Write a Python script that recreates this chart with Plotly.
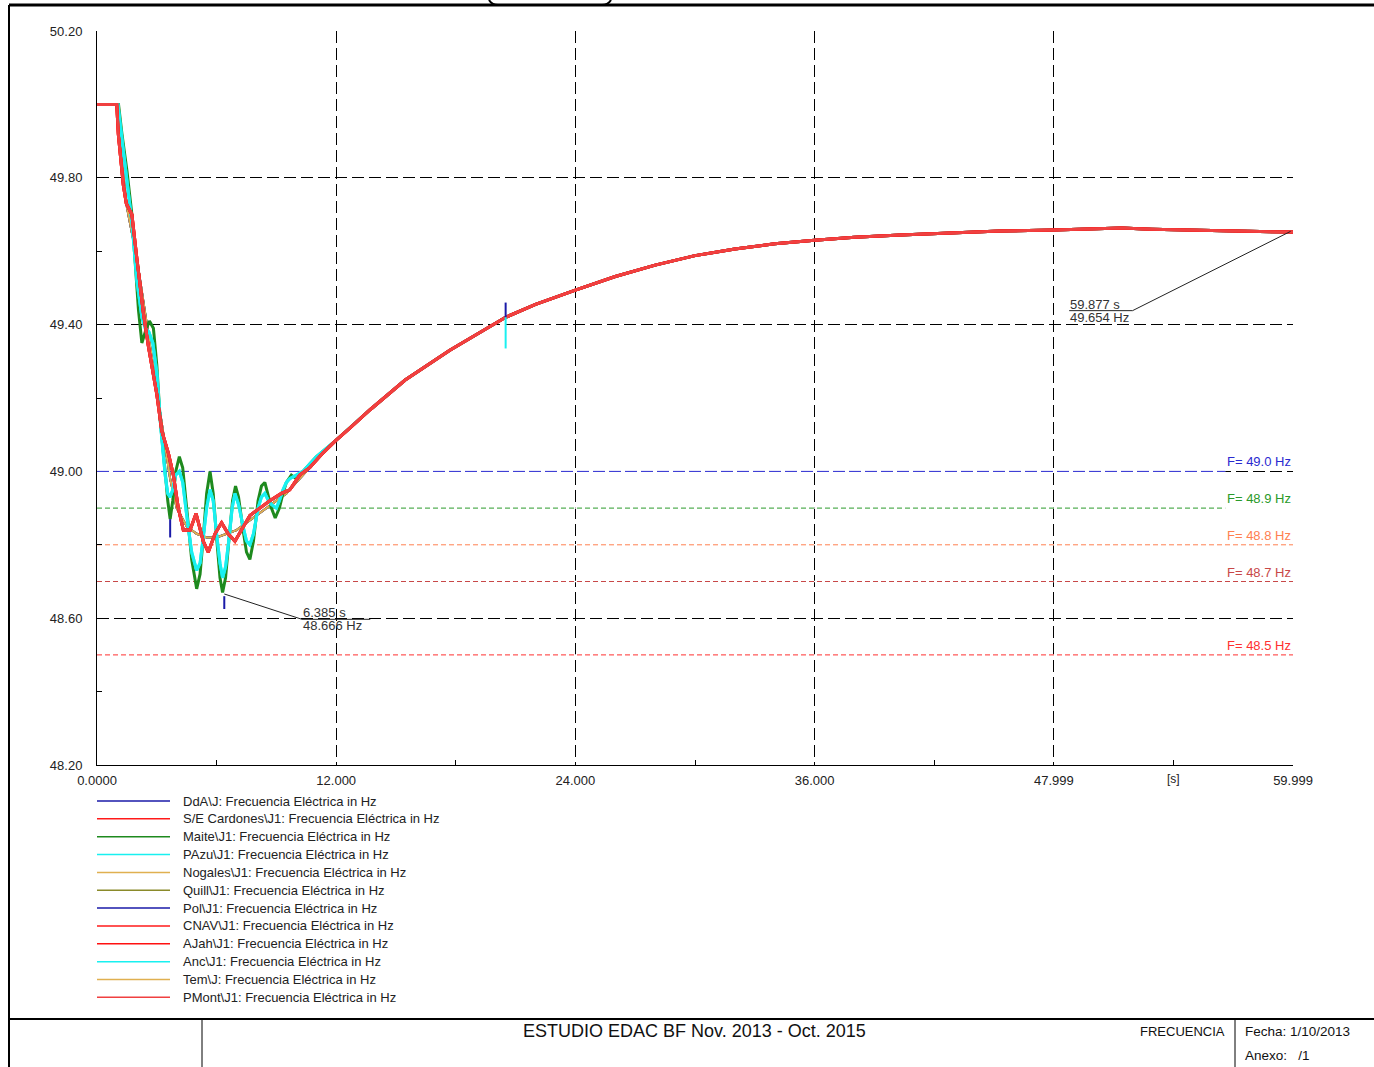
import plotly.graph_objects as go

W, H = 1374, 1067

# ---- data ----
t_red = [0, 0.99, 1.07, 1.32, 1.47, 1.75, 2.0, 2.33, 2.58, 2.75, 3.0, 3.25, 3.58, 3.83, 4.08, 4.33,
         4.67, 4.97, 5.33, 5.58, 5.92, 6.25, 6.58, 6.92, 7.25, 7.67, 8.17, 8.67, 9.25, 9.67, 10.17,
         10.67, 11.33, 12.0, 12.67, 13.7, 15.46, 17.7, 20.5, 22.0, 24.0, 26.0, 28.0, 30.0, 32.0, 34.0,
         36.0, 38.0, 40.3, 45.3, 48.0, 51.4, 52.9, 56.0, 59.999]
f_red = [50.0, 50.0, 49.918, 49.78, 49.73, 49.70, 49.58, 49.43, 49.34, 49.29, 49.21, 49.11, 49.05,
         48.99, 48.90, 48.84, 48.84, 48.885, 48.81, 48.78, 48.83, 48.86, 48.83, 48.81, 48.84, 48.88,
         48.90, 48.92, 48.94, 48.95, 48.99, 49.01, 49.05, 49.085, 49.117, 49.168, 49.249, 49.33, 49.42,
         49.455, 49.494, 49.531, 49.562, 49.588, 49.606, 49.62, 49.63, 49.638, 49.644, 49.655, 49.658,
         49.663, 49.66, 49.656, 49.652]

t_green = [0, 1.08, 1.25, 1.5, 1.75, 1.92, 2.08, 2.25, 2.42, 2.63, 2.83, 3.0, 3.17, 3.42, 3.55, 3.67,
           3.8, 3.95, 4.13, 4.3, 4.5, 4.75, 5.0, 5.17, 5.33, 5.5, 5.67, 5.83, 6.0, 6.17, 6.3, 6.45,
           6.63, 6.8, 6.95, 7.1, 7.33, 7.5, 7.67, 7.85, 8.08, 8.25, 8.42, 8.6, 8.75, 8.94, 9.15, 9.33,
           9.5, 9.75, 10.0, 10.33, 10.67, 11.0, 12.0]
f_green = [50.0, 50.0, 49.92, 49.82, 49.70, 49.55, 49.44, 49.35, 49.38, 49.41, 49.39, 49.29, 49.14,
           49.0, 48.92, 48.87, 48.92, 49.0, 49.04, 49.01, 48.90, 48.76, 48.68, 48.72, 48.82, 48.94,
           49.0, 48.94, 48.82, 48.71, 48.67, 48.71, 48.82, 48.92, 48.96, 48.93, 48.84, 48.78, 48.76,
           48.81, 48.92, 48.96, 48.97, 48.93, 48.90, 48.873, 48.90, 48.94, 48.97, 48.99, 48.98, 49.0,
           49.02, 49.04, 49.085]

t_cyan = [0, 1.05, 1.2, 1.5, 1.75, 2.0, 2.25, 2.42, 2.6, 2.8, 3.0, 3.2, 3.42, 3.55, 3.67, 3.8, 3.95,
          4.13, 4.3, 4.5, 4.75, 5.0, 5.17, 5.33, 5.5, 5.67, 5.83, 6.0, 6.17, 6.3, 6.45, 6.63, 6.78,
          6.92, 7.1, 7.33, 7.5, 7.67, 7.85, 8.08, 8.25, 8.42, 8.6, 8.75, 9.0, 9.15, 9.33, 9.5, 9.67,
          10.0, 10.33, 10.67, 11.0, 12.0]
f_cyan = [50.0, 50.0, 49.93, 49.80, 49.68, 49.52, 49.42, 49.39, 49.38, 49.35, 49.27, 49.12, 48.99,
          48.94, 48.93, 48.95, 48.99, 49.0, 48.97, 48.88, 48.78, 48.73, 48.75, 48.82, 48.90, 48.95,
          48.92, 48.83, 48.75, 48.71, 48.74, 48.82, 48.90, 48.94, 48.91, 48.85, 48.81, 48.80, 48.83,
          48.90, 48.93, 48.94, 48.92, 48.91, 48.90, 48.92, 48.95, 48.97, 48.98, 48.99, 49.0, 49.02,
          49.04, 49.085]

t_smooth = [0, 1.0, 1.1, 1.5, 2.0, 2.5, 3.0, 3.4, 3.67, 4.0, 4.5, 5.0, 5.5, 6.0, 6.5, 7.0, 7.5, 8.0,
            8.5, 9.0, 9.5, 10.0, 10.5, 11.0, 12.0]
f_smooth = [50.0, 50.0, 49.92, 49.72, 49.58, 49.40, 49.22, 49.08, 48.98, 48.90, 48.85, 48.83, 48.82,
            48.82, 48.83, 48.84, 48.86, 48.88, 48.90, 48.92, 48.94, 48.97, 49.0, 49.03, 49.085]

# tail shared by every curve after the swing has died out
t_tail = t_red[34:]
f_tail = f_red[34:]

names = ["DdA\\J: Frecuencia Eléctrica in Hz",
         "S/E Cardones\\J1: Frecuencia Eléctrica in Hz",
         "Maite\\J1: Frecuencia Eléctrica in Hz",
         "PAzu\\J1: Frecuencia Eléctrica in Hz",
         "Nogales\\J1: Frecuencia Eléctrica in Hz",
         "Quill\\J1: Frecuencia Eléctrica in Hz",
         "Pol\\J1: Frecuencia Eléctrica in Hz",
         "CNAV\\J1: Frecuencia Eléctrica in Hz",
         "AJah\\J1: Frecuencia Eléctrica in Hz",
         "Anc\\J1: Frecuencia Eléctrica in Hz",
         "Tem\\J: Frecuencia Eléctrica in Hz",
         "PMont\\J1: Frecuencia Eléctrica in Hz"]
colors = ["#1a1aa8", "#ff1a1a", "#1e8a1e", "#19f0f0", "#e0b050", "#8a8a2a",
          "#1a1aa8", "#ff1a1a", "#ff1010", "#19f0f0", "#e0b050", "#f04040"]
shape_of = ["smooth", "red", "green", "cyan", "smooth", "smooth",
            "smooth", "red", "red", "cyan", "smooth", "red"]

# short vertical jumps seen on some curves: (time, from, to, colour)
spikes = [(3.67, 48.87, 48.82, "#1a1aa8"), (6.385, 48.66, 48.625, "#1a1aa8"),
          (20.5, 49.46, 49.42, "#1a1aa8"), (20.5, 49.42, 49.335, "#19f0f0")]

thr_vals = [49.0, 48.9, 48.8, 48.7, 48.5]
thr_labels = ["F= 49.0 Hz", "F= 48.9 Hz", "F= 48.8 Hz", "F= 48.7 Hz", "F= 48.5 Hz"]
thr_colors = ["#2a2ad0", "#2a9a2a", "#ff8050", "#c84848", "#ff3030"]
thr_dash = ["12px,4px", "5px,3px", "5px,3px", "5px,3px", "5px,3px"]
thr_end = [56.6, 56.6, 59.999, 59.999, 59.999]

x_ticks = [0, 12.0, 24.0, 36.0, 47.999, 59.999]
x_labels = ["0.0000", "12.000", "24.000", "36.000", "47.999", "59.999"]
y_ticks = [48.2, 48.6, 49.0, 49.4, 49.8, 50.2]

# cursor readouts: point (t, f), elbow (t, f), far end of the underline (t)
cursors = [(6.385, 48.666, 10.28, 48.597, 13.71), (59.877, 49.654, 51.95, 49.438, 48.77)]

# ---- figure ----
def px(x):
    return x / W


def py(y):
    return 1 - y / H


FONT = "Liberation Sans, Arial, sans-serif"
fig = go.Figure()

for v, c, d, e in zip(thr_vals, thr_colors, thr_dash, thr_end):
    # white underlay so the black grid dashes at 49.00 do not show through
    fig.add_trace(go.Scatter(x=[0, e], y=[v, v], mode="lines",
                             line=dict(color="white", width=1.5), hoverinfo="skip"))
    fig.add_trace(go.Scatter(x=[0, e], y=[v, v], mode="lines",
                             line=dict(color=c, width=1, dash=d), hoverinfo="skip"))

groups = {"red": (t_red, f_red), "green": (t_green + t_tail, f_green + f_tail),
          "cyan": (t_cyan + t_tail, f_cyan + f_tail), "smooth": (t_smooth + t_tail, f_smooth + f_tail)}
widths = {"red": 3, "green": 3, "cyan": 3, "smooth": 2}
order = ["smooth", "green", "cyan", "red"]
for g in order:
    for n, c, s in zip(names, colors, shape_of):
        if s != g:
            continue
        tx, fy = groups[g]
        fig.add_trace(go.Scatter(x=tx, y=fy, mode="lines", name=n,
                                 line=dict(color=c, width=widths[g])))

for t, a, b, c in spikes:
    fig.add_trace(go.Scatter(x=[t, t], y=[a, b], mode="lines", line=dict(color=c, width=2),
                             hoverinfo="skip"))

shapes = []
annos = []

for v, lab, c in zip(thr_vals, thr_labels, thr_colors):
    annos.append(dict(x=59.999, y=v, xref="x", yref="y", text=lab, showarrow=False,
                      xanchor="right", yanchor="bottom", yshift=0,
                      font=dict(size=13, color=c, family=FONT)))

for t0, f0, te, fe, tl in cursors:
    shapes.append(dict(type="line", xref="x", yref="y", x0=t0, y0=f0, x1=te, y1=fe,
                       line=dict(color="#222", width=1)))
    shapes.append(dict(type="line", xref="x", yref="y", x0=min(te, tl), y0=fe, x1=max(te, tl), y1=fe,
                       line=dict(color="#222", width=1)))
    annos.append(dict(x=min(te, tl), y=fe, xref="x", yref="y", text="%.3f s" % t0, showarrow=False,
                      xanchor="left", yanchor="bottom", yshift=-2, borderpad=0,
                      font=dict(size=13, color="#333", family=FONT)))
    annos.append(dict(x=min(te, tl), y=fe, xref="x", yref="y", text="%.3f Hz" % f0, showarrow=False,
                      xanchor="left", yanchor="top", yshift=2, borderpad=0,
                      font=dict(size=13, color="#333", family=FONT)))

annos.append(dict(x=54.0, y=py(779), xref="x", yref="paper", text="[s]", showarrow=False,
                  xanchor="center", yanchor="middle", font=dict(size=12, color="#222", family=FONT)))

# legend drawn by hand (long line samples)
for i, (n, c) in enumerate(zip(names, colors)):
    yy = 801 + i * 17.85
    shapes.append(dict(type="line", xref="paper", yref="paper", x0=px(97), x1=px(170),
                       y0=py(yy), y1=py(yy), line=dict(color=c, width=1.5)))
    annos.append(dict(x=px(181), y=py(yy), xref="paper", yref="paper", text=n, showarrow=False,
                      xanchor="left", yanchor="middle", font=dict(size=13, color="#222", family=FONT)))

# page frame and title block
frame = dict(color="black", width=2)
shapes += [
    dict(type="line", xref="paper", yref="paper", x0=px(9), x1=px(9), y0=py(5), y1=0, line=frame),
    dict(type="line", xref="paper", yref="paper", x0=px(9), x1=1, y0=py(5), y1=py(5),
         line=dict(color="black", width=3)),
    dict(type="line", xref="paper", yref="paper", x0=px(9), x1=1, y0=py(1019), y1=py(1019), line=frame),
    dict(type="line", xref="paper", yref="paper", x0=px(202), x1=px(202), y0=py(1019), y1=0,
         line=dict(color="black", width=1)),
    dict(type="line", xref="paper", yref="paper", x0=px(1235), x1=px(1235), y0=py(1019), y1=0,
         line=dict(color="black", width=1)),
    dict(type="path", xref="paper", yref="paper",
         path="M %f %f Q %f %f %f %f L %f %f Q %f %f %f %f" % (
             px(489), 1.0, px(492), py(5), px(498), py(5), px(602), py(5), px(608), py(5), px(611), 1.0),
         line=dict(color="black", width=2)),
]
annos += [
    dict(x=px(694), y=py(1031), xref="paper", yref="paper", text="ESTUDIO EDAC BF Nov. 2013 - Oct. 2015",
         showarrow=False, xanchor="center", yanchor="middle", font=dict(size=18, color="#111", family=FONT)),
    dict(x=px(1227), y=py(1031), xref="paper", yref="paper", text="FRECUENCIA",
         showarrow=False, xanchor="right", yanchor="middle", font=dict(size=13, color="#111", family=FONT)),
    dict(x=px(1243), y=py(1031), xref="paper", yref="paper", text="Fecha: 1/10/2013",
         showarrow=False, xanchor="left", yanchor="middle", font=dict(size=13.5, color="#111", family=FONT)),
    dict(x=px(1243), y=py(1055), xref="paper", yref="paper", text="Anexo:   /1",
         showarrow=False, xanchor="left", yanchor="middle", font=dict(size=13.5, color="#111", family=FONT)),
]

fig.update_layout(
    width=W, height=H, margin=dict(l=0, r=0, t=0, b=0, autoexpand=False),
    paper_bgcolor="white", plot_bgcolor="white", showlegend=False,
    font=dict(family=FONT, size=13, color="#222"),
    xaxis=dict(domain=[px(97), px(1293)], range=[0, 59.999], tickmode="array", tickvals=x_ticks,
               ticktext=x_labels, ticks="", showgrid=True, gridcolor="black", gridwidth=1,
               griddash="12px,5px", showline=True, linecolor="black", linewidth=1, zeroline=False,
               automargin=False, ticklabelstandoff=3, tickfont=dict(size=13, color="#222", family=FONT),
               minor=dict(tickvals=[6, 18, 30, 42, 54], ticks="inside", ticklen=5,
                          tickcolor="black", showgrid=False)),
    yaxis=dict(domain=[py(765), py(31)], range=[48.2, 50.2], tickmode="array", tickvals=y_ticks,
               ticktext=["%.2f" % v for v in y_ticks], ticks="", showgrid=True, gridcolor="black",
               gridwidth=1, griddash="12px,5px", showline=True, linecolor="black", linewidth=1,
               zeroline=False, automargin=False, ticklabelstandoff=11,
               tickfont=dict(size=13, color="#222", family=FONT),
               minor=dict(tickvals=[48.4, 48.8, 49.2, 49.6], ticks="inside", ticklen=5,
                          tickcolor="black", showgrid=False)),
    shapes=shapes, annotations=annos,
)

# the page's default 8px body margin would push the whole figure off its place
fig.write_html("out.html", config={"displayModeBar": False},
               post_script="document.body.style.margin='0';")
